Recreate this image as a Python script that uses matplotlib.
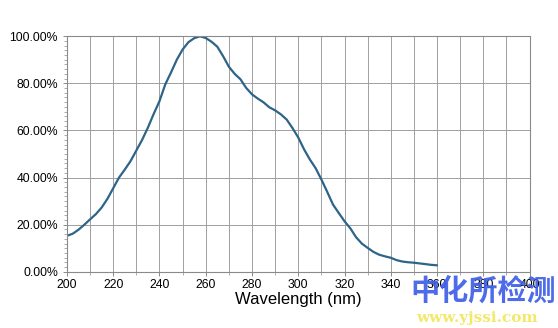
import numpy as np
import matplotlib.pyplot as plt
from matplotlib.ticker import MultipleLocator, PercentFormatter

# relative absorbance spectrum, sampled every 2.5 nm
wavelength = [200, 202.5, 205, 207.5, 210, 212.5, 215, 217.5, 220, 222.5,
              225, 227.5, 230, 232.5, 235, 237.5, 240, 242.5, 245, 247.5,
              250, 252.5, 255, 257.5, 260, 262.5, 265, 267.5, 270, 272.5,
              275, 277.5, 280, 282.5, 285, 287.5, 290, 292.5, 295, 297.5,
              300, 302.5, 305, 307.5, 310, 312.5, 315, 317.5, 320, 322.5,
              325, 327.5, 330, 332.5, 335, 337.5, 340, 342.5, 345, 347.5,
              350, 352.5, 355, 357.5, 360]
relative = [15.3, 16.2, 17.9, 20.0, 22.3, 24.5, 27.3, 31.0, 35.5, 40.0,
            43.4, 47.0, 51.5, 56.0, 61.2, 67.0, 72.4, 79.5, 84.6, 90.0,
            94.3, 97.4, 99.1, 99.9, 99.2, 97.6, 95.5, 91.5, 87.0, 84.0,
            81.7, 78.0, 75.3, 73.5, 71.9, 69.8, 68.5, 66.8, 64.6, 61.0,
            57.0, 52.0, 47.7, 44.0, 39.2, 34.0, 28.6, 25.0, 21.5, 18.5,
            14.7, 12.0, 10.2, 8.5, 7.3, 6.6, 6.0, 5.0, 4.4, 4.1,
            3.9, 3.6, 3.3, 3.0, 2.8]

x_ticks = [200, 220, 240, 260, 280, 300, 320, 340, 360, 380, 400]

plt.rcParams["font.family"] = ["Liberation Sans", "DejaVu Sans"]

fig = plt.figure(figsize=(5.58, 3.28), dpi=100)
ax = fig.add_axes([0.120, 0.171, 0.829, 0.719])

ax.plot(wavelength, relative, color="#2d6488", linewidth=1.6,
        solid_capstyle="round", solid_joinstyle="round")

ax.set_xlim(200, 400)
ax.set_ylim(0, 100)
ax.set_xticks(x_ticks)
ax.xaxis.set_minor_locator(MultipleLocator(10))
ax.yaxis.set_major_locator(MultipleLocator(20))
ax.yaxis.set_minor_locator(MultipleLocator(2))
ax.yaxis.set_major_formatter(PercentFormatter(decimals=2))

ax.grid(which="major", axis="y", color="#a0a0a0", linewidth=0.7)
ax.grid(which="both", axis="x", color="#a0a0a0", linewidth=0.7)
for side in ["left", "bottom", "right", "top"]:
    ax.spines[side].set_color("#8a8a8a")
    ax.spines[side].set_linewidth(0.8)

ax.tick_params(axis="both", which="major", labelsize=8.8, colors="#8a8a8a",
               labelcolor="black", length=3, width=0.7)
ax.tick_params(axis="both", which="minor", colors="#8a8a8a", length=2, width=0.5)
ax.tick_params(axis="x", pad=2)
ax.set_xlabel("Wavelength (nm)", fontsize=12, labelpad=1)

# site watermark
fig.text(0.735, 0.115, "中化所检测", fontsize=21, fontweight="heavy", color="#3f5fe8",
         family=["Noto Sans CJK SC", "DejaVu Sans"], va="center", alpha=0.92)
fig.text(0.745, 0.030, "www.yjssi.com", fontsize=11, fontweight="bold", color="#f3e86a",
         family="DejaVu Serif", va="center")

plt.savefig("out.png", dpi=100)
